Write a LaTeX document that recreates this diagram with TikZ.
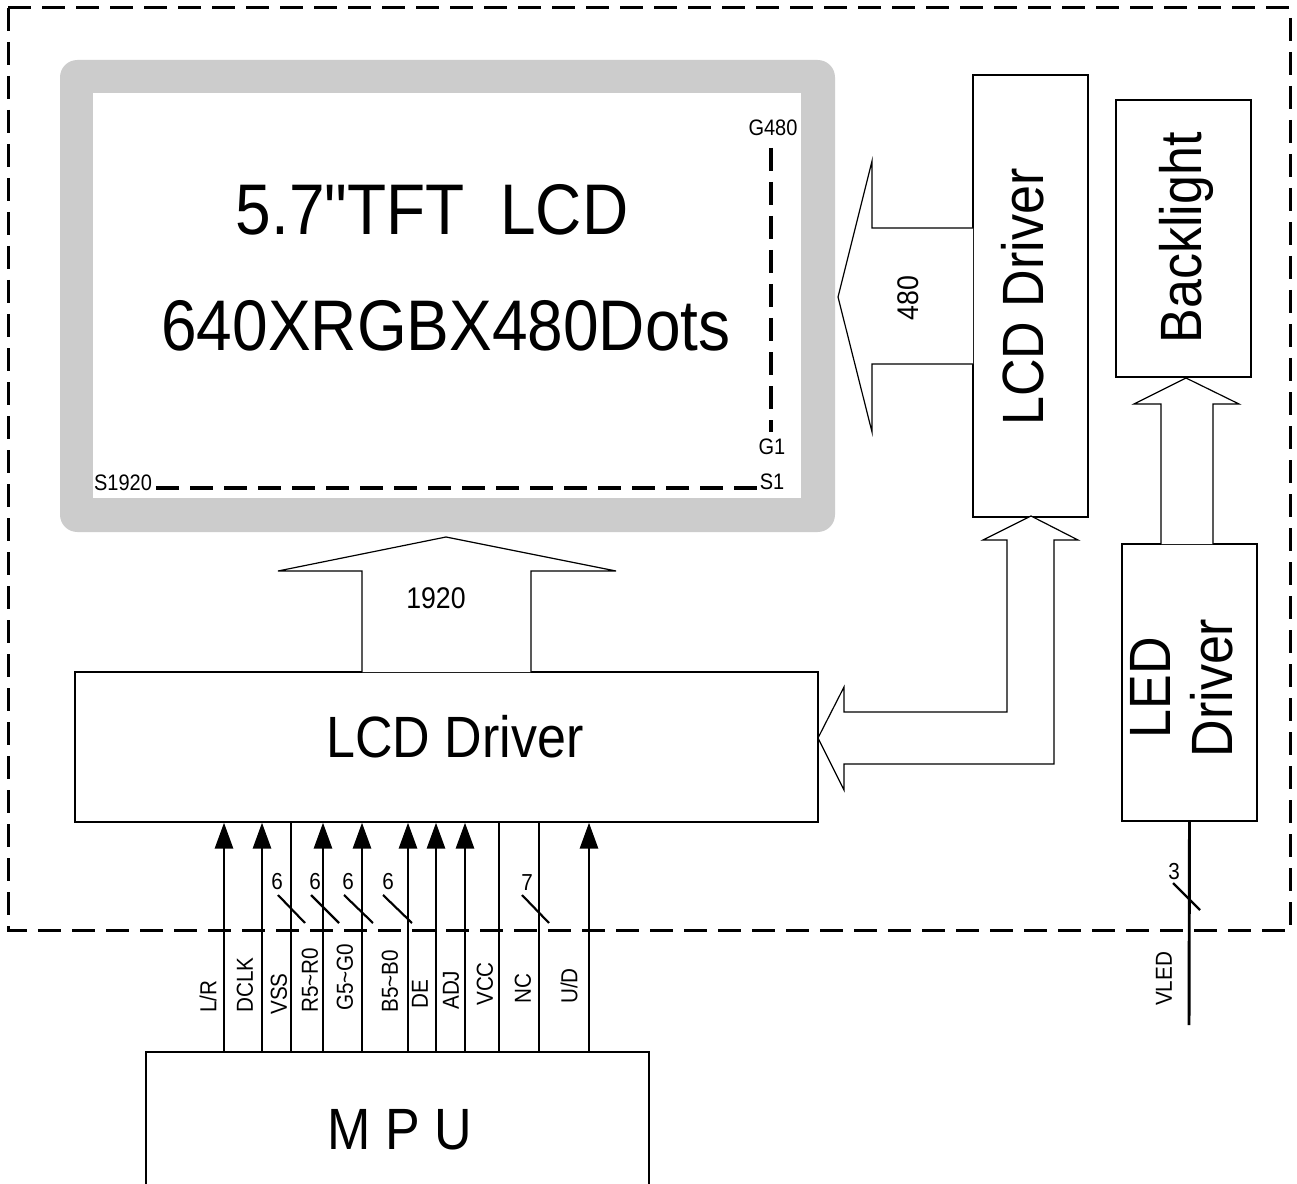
\documentclass[tikz,border=0pt]{standalone}
\usepackage{fontspec}
\setmainfont{Liberation Sans}
\newfontfamily\qfont{Liberation Sans}
\usepackage{graphicx}
\usetikzlibrary{arrows.meta,fit}
\definecolor{framegray}{RGB}{204,204,204}
\newcommand\st[1]{\scalebox{1}[1.12]{#1}}
\tikzset{
  box/.style={draw=black, line width=1pt, fill=white, inner sep=0pt},
  hollow/.style={draw=black, line width=0.9pt, fill=white, line join=miter},
  sig/.style={line width=2.2pt},
  sigarr/.style={sig, -{Triangle[length=19.5pt,width=13.5pt]}},
  bus/.style={line width=1.6pt},
  border/.style={line width=2.25pt, dash pattern=on 17.5pt off 8pt},
  idash/.style={line width=2.4pt, dash pattern=on 17pt off 8.5pt},
  big/.style={font=\fontsize{48}{56}\selectfont, inner sep=0pt},
  med/.style={font=\fontsize{39}{42}\selectfont, inner sep=0pt},
  num/.style={font=\fontsize{20}{24}\selectfont, inner sep=0pt},
  lab/.style={font=\fontsize{15.5}{18}\selectfont, inner sep=0pt},
  small/.style={font=\fontsize{15}{17}\selectfont, inner sep=0pt},
}
\begin{document}
\begin{tikzpicture}[x=0.75pt,y=-0.75pt]
\useasboundingbox (0,0) rectangle (1297,1184);
\fill[white] (0,0) rectangle (1297,1184);

% outer dashed border
\draw[border] (8,8) -- (1290,8) -- (1290,930);
\draw[border] (8,8) -- (8,930) -- (1290,930);

% LCD panel
\fill[framegray, rounded corners=13pt] (60,60) rectangle (835,532);
\fill[white] (93,93) rectangle (801,498);
\node[big, anchor=base] (t1) at (432,235) {\st{5.7{\qfont"}TFT\ \ LCD}};
\node[big, anchor=base] (t2) at (446,350) {\st{640XRGBX480Dots}};
\node[small] (g480) at (773,128) {\st{G480}};
\node[small] (g1) at (772,447) {\st{G1}};
\node[small] (s1) at (772,482) {\st{S1}};
\node[small] (s1920) at (123,483) {\st{S1920}};
\draw[idash] (771,148) -- (771,432);
\draw[idash] (156,488) -- (758,488);

% boxes
\node[box, fit={(75,672) (818,822)}] (drv) {};
\node[med, anchor=base] (drvt) at (455,757) {\st{LCD Driver}};
\node[box, fit={(973,75) (1088,517)}] (gdrv) {};
\node[med, rotate=90] (gdrvt) at (1023,297) {\st{LCD Driver}};
\node[box, fit={(1116,100) (1251,377)}] (bl) {};
\node[med, rotate=90] (blt) at (1186,238) {\st{Backlight}};
\node[box, fit={(1122,544) (1257,821)}] (led) {};
\node[med, rotate=90, align=center] (ledt) at (1189,688) {\st{\begin{tabular}{@{}c@{}}LED\\Driver\end{tabular}}};
\node[box, fit={(146,1052) (649,1200)}] (mpu) {};
\node[med, anchor=base] (mput) at (400,1149) {\st{M P U}};

% 480 arrow
\draw[hollow] (973,228) -- (872,228) -- (872,161) -- (838,297) -- (872,432) -- (872,364) -- (973,364);
\node[num, rotate=90] (n480) at (908,298) {\st{480}};

% 1920 arrow
\draw[hollow] (362,672) -- (362,571) -- (278,571) -- (446,537) -- (616,571) -- (531,571) -- (531,672);
\node[num] (n1920) at (436,598) {\st{1920}};

% L-shaped double arrow
\draw[hollow] (1007,540) -- (1007,712) -- (844,712) -- (844,687) -- (818,738) -- (844,790) -- (844,764) -- (1054,764) -- (1054,540) -- (1078,540) -- (1031,516) -- (983,540) -- cycle;

% backlight arrow
\draw[hollow] (1161,544) -- (1161,404) -- (1134,404) -- (1186,378) -- (1239,404) -- (1213,404) -- (1213,544);

% signal lines
\foreach \x in {224,262,323,362,408,436,465,589}
  \draw[sigarr] (\x,0 |- mpu.north) -- (\x,0 |- drv.south);
\foreach \x in {291,499,539}
  \draw[sig] (\x,0 |- mpu.north) -- (\x,0 |- drv.south);

% bus slashes
\draw[bus] (278,895) -- (305,923);
\draw[bus] (311,895) -- (339,923);
\draw[bus] (344,895) -- (373,923);
\draw[bus] (383,895) -- (412,923);
\draw[bus] (522,895) -- (549,923);
\node[lab] (b1) at (277,882) {\st{6}};
\node[lab] (b2) at (315,882) {\st{6}};
\node[lab] (b3) at (348,882) {\st{6}};
\node[lab] (b4) at (388,882) {\st{6}};
\node[lab] (b5) at (527,883) {\st{7}};

% signal labels
\foreach \x/\y/\t in {208/1013/L{/}R, 245/1013/DCLK, 279/1015/VSS, 310/1013/R5\textasciitilde R0, 345/1011/G5\textasciitilde G0, 390/1013/B5\textasciitilde B0, 420/1009/DE, 451/1010/ADJ, 485/1006/VCC, 523/1004/NC, 569/1004/U{/}D}
  \node[lab, rotate=90, anchor=west] at (\x,\y) {\st{\t}};

% VLED
\coordinate (vledend) at (1189,1025);
\draw[sig] (led.south) -- (vledend);
\draw[bus] (1173,883) -- (1200,910);
\node[lab] (b6) at (1174,872) {\st{3}};
\node[lab, rotate=90] (vled) at (1164,979) {\st{VLED}};
\end{tikzpicture}
\end{document}
